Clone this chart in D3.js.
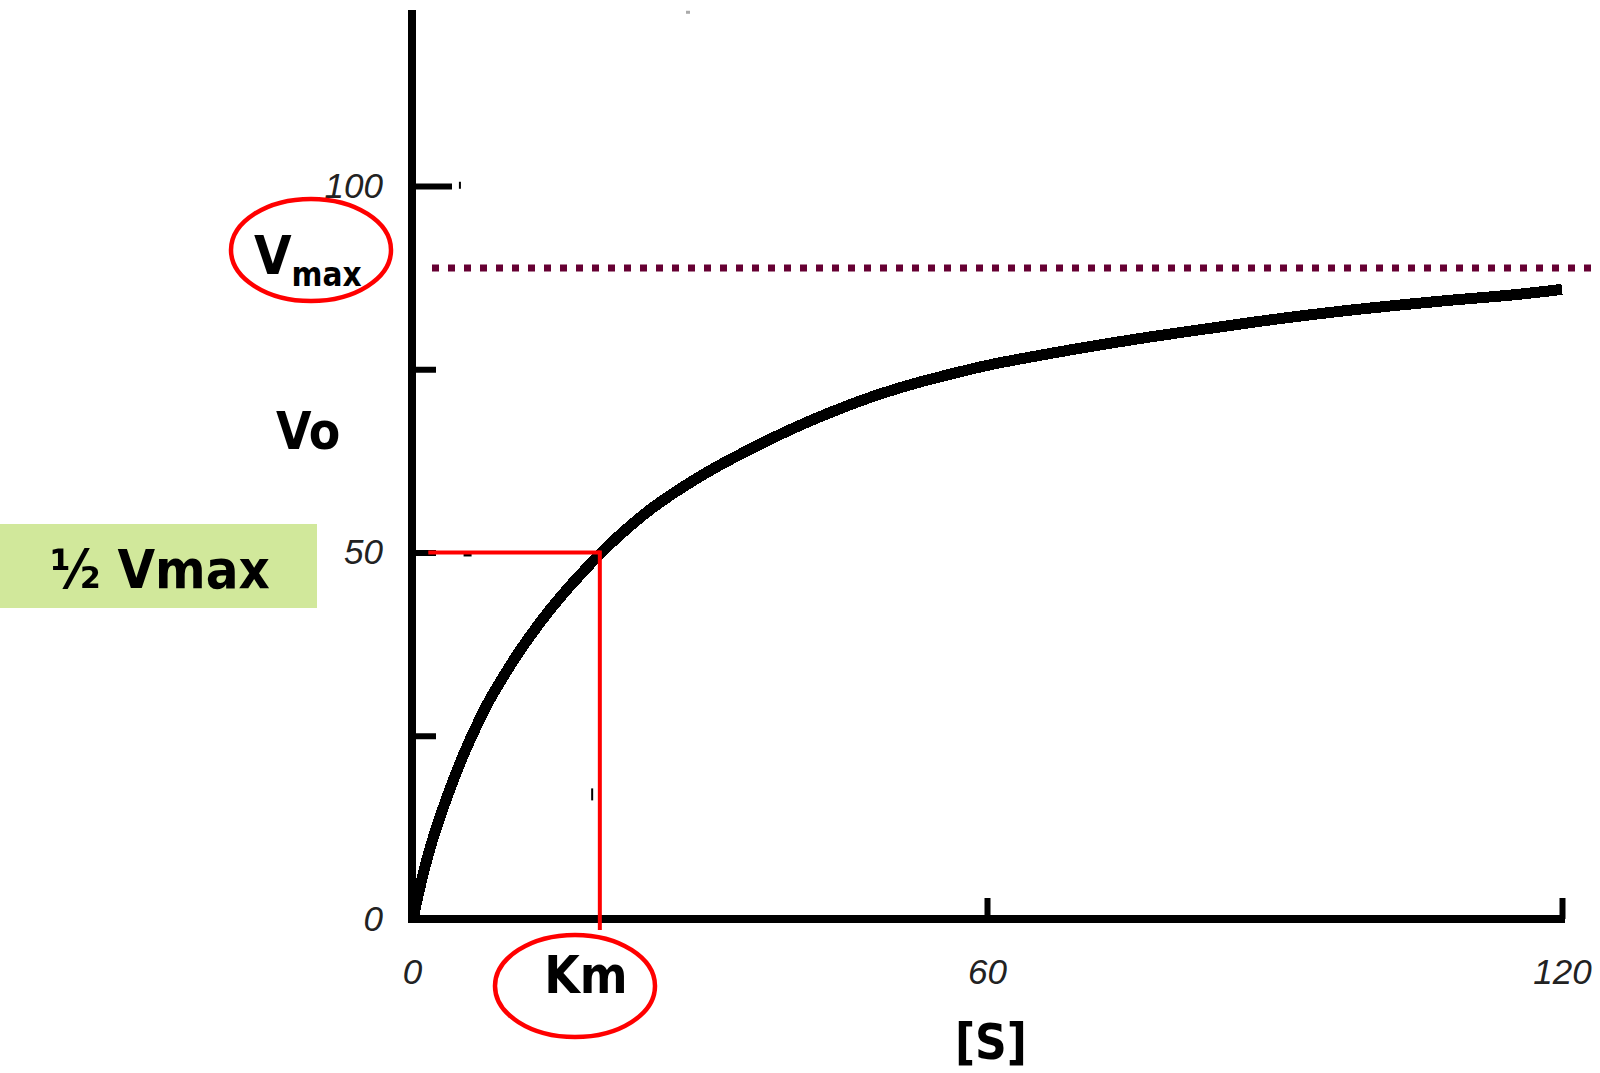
<!DOCTYPE html>
<html>
<head>
<meta charset="utf-8">
<script src="https://cdn.jsdelivr.net/npm/d3@7"></script>
<style>
  html, body { margin: 0; padding: 0; background: #fff; }
  svg { display: block; }
  .lbl { font-family: "DejaVu Sans Condensed", "DejaVu Sans", sans-serif; font-weight: bold; fill: #000; }
  .tick text { font-family: "Liberation Sans", Arial, sans-serif; font-style: italic; font-size: 35px; fill: #222; }
</style>
</head>
<body>
<svg id="chart" width="1600" height="1073"></svg>
<script>
// Michaelis–Menten saturation curve: substrate concentration [S] vs initial velocity Vo
const substrate = [0.2, 1.15, 2.1, 3.1, 4.3, 5.5, 6.9, 8.1, 9.5, 11.0, 12.6, 14.4, 16.2, 17.8,
  19.6, 21.7, 24.8, 28.0, 31.4, 35.0, 38.4, 41.8, 45.4, 48.8, 52.3, 55.8, 60.3,
  68.1, 76.0, 83.9, 91.7, 99.6, 107.4, 115.3, 120.0];
const velocity = [0.6, 6.1, 10.6, 14.6, 18.9, 22.8, 26.8, 29.9, 33.0, 36.1, 39.1, 42.2, 45.0, 47.3,
  49.8, 52.4, 55.8, 58.7, 61.4, 63.9, 66.1, 68.1, 70.0, 71.6, 73.0, 74.2, 75.6,
  77.5, 79.2, 80.7, 82.1, 83.3, 84.3, 85.2, 85.9];

const vmaxLevel = 88.8;        // dotted asymptote
const halfVmax = 50;           // ½ Vmax guide
const km = 19.6;               // Km guide
const yTickValues = [0, 25, 50, 75, 100];
const yTickLabels = ["0", "", "50", "", "100"];
const xTickValues = [0, 60, 120];
const xTickLabels = ["0", "60", "120"];
const yAxisTop = 124;          // vertical axis runs past the last tick
// small stray dashes on the plot: [S, v, width, height, colour]
const strayMarks = [[5.8, 49.8, 8, 5, "#000"], [5.0, 100.1, 2, 7, "#000"], [18.8, 17.0, 2, 12, "#000"], [28.8, 123.7, 4, 3, "#aaa"]];

const svg = d3.select("#chart");
svg.append("rect").attr("width", 1600).attr("height", 1073).attr("fill", "#fff");

const x = d3.scaleLinear().domain([0, 120]).range([412, 1562]);
const y = d3.scaleLinear().domain([0, 100]).range([919, 186]);

// green highlight box behind "½ Vmax"
svg.append("rect").attr("x", 0).attr("y", 524).attr("width", 317).attr("height", 84).attr("fill", "#d1e89b");

// dotted Vmax asymptote
svg.append("line")
  .attr("x1", 432).attr("x2", 1600)
  .attr("y1", y(vmaxLevel)).attr("y2", y(vmaxLevel))
  .attr("stroke", "#660033").attr("stroke-width", 7)
  .attr("stroke-dasharray", "7 9");

// y axis (ticks point inward)
const yAxis = d3.axisLeft(y)
  .tickValues(yTickValues)
  .tickFormat((d, i) => yTickLabels[i])
  .tickSizeInner(-24).tickSizeOuter(0).tickPadding(29);
const gy = svg.append("g").attr("transform", `translate(${x(0)},0)`).call(yAxis);
gy.select(".domain").remove();
gy.selectAll(".tick line").attr("stroke", "#000").attr("stroke-width", 6)
  .attr("x2", d => d === 100 ? 40 : 24);

// x axis (ticks point upward)
const xAxis = d3.axisBottom(x)
  .tickValues(xTickValues)
  .tickFormat((d, i) => xTickLabels[i])
  .tickSizeInner(-21).tickSizeOuter(0).tickPadding(40);
const gx = svg.append("g").attr("transform", `translate(0,${y(0)})`).call(xAxis);
gx.select(".domain").remove();
gx.selectAll(".tick line").attr("stroke", "#000").attr("stroke-width", 6);

// heavy axis lines
svg.append("line").attr("x1", x(0)).attr("x2", x(0)).attr("y1", y(yAxisTop)).attr("y2", y(0) + 4)
  .attr("stroke", "#000").attr("stroke-width", 8);
svg.append("line").attr("x1", x(0) - 4).attr("x2", x(120) + 3).attr("y1", y(0)).attr("y2", y(0))
  .attr("stroke", "#000").attr("stroke-width", 8);

// stray marks
svg.append("g").selectAll("rect").data(strayMarks).join("rect")
  .attr("x", d => x(d[0]) - d[2] / 2).attr("y", d => y(d[1]) - d[3] / 2)
  .attr("width", d => d[2]).attr("height", d => d[3]).attr("fill", d => d[4]);

// saturation curve
const pts = substrate.map((s, i) => [s, velocity[i]]);
svg.append("path")
  .datum(pts)
  .attr("d", d3.line().x(d => x(d[0])).y(d => y(d[1])).curve(d3.curveCatmullRom.alpha(0.5)))
  .attr("fill", "none").attr("stroke", "#000").attr("stroke-width", 11)
  .attr("shape-rendering", "crispEdges");

// red guides for ½ Vmax and Km
svg.append("line").attr("x1", x(1.7)).attr("x2", x(km)).attr("y1", y(halfVmax)).attr("y2", y(halfVmax))
  .attr("stroke", "#ff0000").attr("stroke-width", 4);
svg.append("line").attr("x1", x(km)).attr("x2", x(km)).attr("y1", y(halfVmax) - 2).attr("y2", y(-1.5))
  .attr("stroke", "#ff0000").attr("stroke-width", 4);

// labels
const vmaxText = svg.append("text").attr("class", "lbl").attr("x", 254).attr("y", 274);
vmaxText.append("tspan").attr("font-size", 54).text("V");
vmaxText.append("tspan").attr("font-size", 33).attr("dy", 12).text("max");

svg.append("text").attr("class", "lbl").attr("x", 276).attr("y", 449).attr("font-size", 51).text("Vo");
svg.append("text").attr("class", "lbl").attr("x", 160).attr("y", 588).attr("font-size", 54)
  .attr("text-anchor", "middle").text("½ Vmax");
svg.append("text").attr("class", "lbl").attr("x", 586).attr("y", 993).attr("font-size", 51)
  .attr("text-anchor", "middle").text("Km");
svg.append("text").attr("class", "lbl").attr("x", 991).attr("y", 1059).attr("font-size", 49)
  .attr("text-anchor", "middle").text("[S]");

// red ellipses around Vmax and Km
svg.append("ellipse").attr("cx", 311).attr("cy", 250).attr("rx", 80).attr("ry", 51)
  .attr("fill", "none").attr("stroke", "#ff0000").attr("stroke-width", 4.5);
svg.append("ellipse").attr("cx", 575).attr("cy", 986).attr("rx", 80).attr("ry", 51)
  .attr("fill", "none").attr("stroke", "#ff0000").attr("stroke-width", 4.5);
</script>
</body>
</html>
